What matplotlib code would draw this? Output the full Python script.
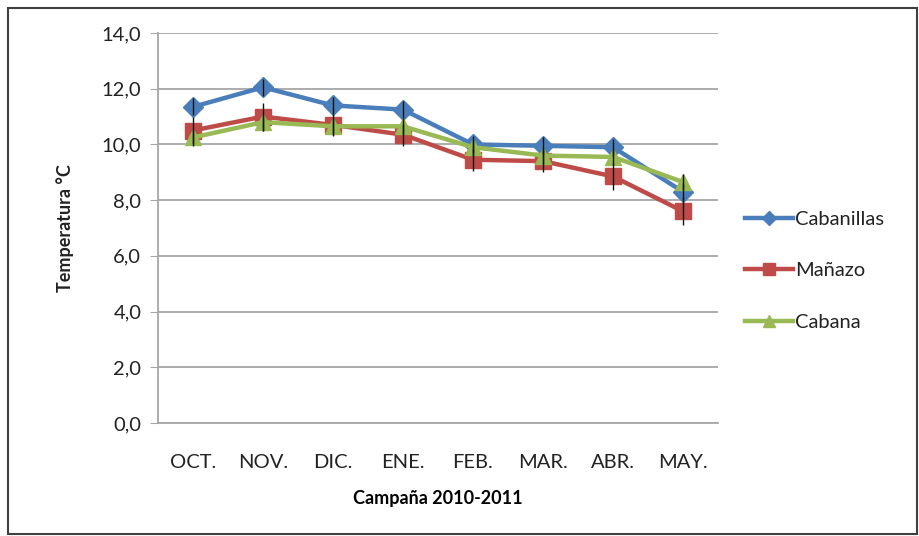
import matplotlib
matplotlib.use("Agg")
import matplotlib.pyplot as plt
from matplotlib.patches import Rectangle
from matplotlib.ticker import FuncFormatter

months = ["OCT.", "NOV.", "DIC.", "ENE.", "FEB.", "MAR.", "ABR.", "MAY."]
cabanillas = [11.35, 12.05, 11.4, 11.25, 10.0, 9.95, 9.9, 8.3]
manazo = [10.5, 11.0, 10.7, 10.35, 9.45, 9.4, 8.85, 7.6]
cabana = [10.25, 10.8, 10.65, 10.65, 9.9, 9.6, 9.55, 8.65]
err_cabanillas = [0.3, 0.3, 0.3, 0.3, 0.3, 0.3, 0.3, 0.3]
err_manazo = [0.5, 0.5, 0.4, 0.4, 0.4, 0.4, 0.5, 0.5]
err_cabana = [0.3, 0.3, 0.3, 0.3, 0.3, 0.3, 0.3, 0.3]
yticks = [0, 2, 4, 6, 8, 10, 12, 14]

plt.rcParams["font.family"] = ["Lato", "DejaVu Sans"]

fig = plt.figure(figsize=(9.2, 5.36), dpi=100)
ax = fig.add_axes([158 / 920, 1 - 423 / 536, 560 / 920, 390 / 536])

x = list(range(len(months)))
series = [
    ("Cabanillas", cabanillas, err_cabanillas, "#4A7EBB", "D", 10),
    ("Mañazo", manazo, err_manazo, "#BE4B48", "s", 11),
    ("Cabana", cabana, err_cabana, "#98B954", "^", 11),
]
for name, vals, err, col, mk, ms in series:
    ax.plot(x, vals, color=col, lw=3.2, marker=mk, ms=ms, label=name, zorder=3)
for name, vals, err, col, mk, ms in series:
    ax.errorbar(x, vals, yerr=err, fmt="none", ecolor="#111111", elinewidth=1,
                capsize=0, zorder=4)

ax.set_xlim(-0.5, len(months) - 0.5)
ax.set_ylim(0, 14)
ax.set_yticks(yticks)
ax.yaxis.set_major_formatter(FuncFormatter(lambda v, p: f"{v:.1f}".replace(".", ",")))
ax.set_xticks(x)
ax.set_xticklabels(months)
ax.grid(axis="y", color="#A6A6A6", lw=1.3)
ax.set_axisbelow(True)
for s in ["top", "right"]:
    ax.spines[s].set_visible(False)
for s in ["left", "bottom"]:
    ax.spines[s].set_color("#A6A6A6")
    ax.spines[s].set_linewidth(1.3)
ax.tick_params(axis="y", length=6, color="#A6A6A6", labelsize=14.5, colors="#222222", pad=6)
ax.tick_params(axis="x", length=0, labelsize=14.5, colors="#222222", pad=22)
ax.yaxis.label.set_color("#222222")
ax.set_ylabel("Temperatura °C", fontsize=13, fontweight="bold", labelpad=20)
ax.set_xlabel("Campaña 2010-2011", fontsize=13, fontweight="bold", labelpad=14)

leg = ax.legend(loc="center left", bbox_to_anchor=(1.015, 0.39), frameon=False,
                fontsize=14.5, handlelength=2.4, handletextpad=0.1, labelspacing=1.7,
                markerscale=0.75)
for t in leg.get_texts():
    t.set_color("#222222")

fig.add_artist(Rectangle((8 / 920, 0.003), 909 / 920, 1 - 8 / 536 - 0.003,
                         transform=fig.transFigure, fill=False,
                         edgecolor="#404040", lw=1.5))

fig.savefig("out.png", dpi=100)
